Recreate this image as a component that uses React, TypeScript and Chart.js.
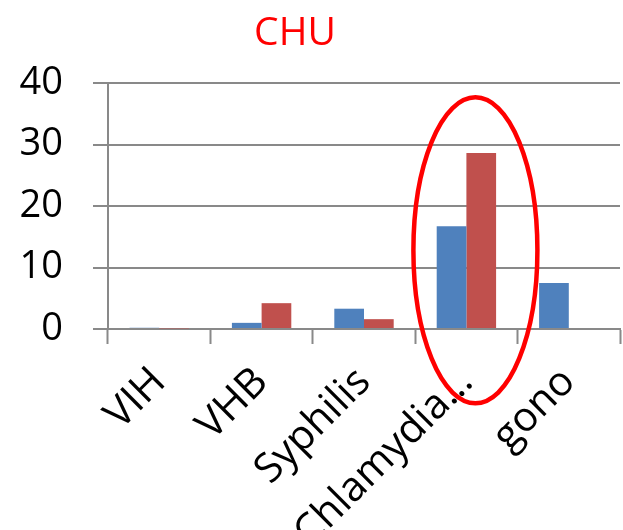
import React, { useEffect, useRef } from "react";
import { Chart, registerables } from "chart.js";

Chart.register(...registerables);

const categories = ["VIH", "VHB", "Syphilis", "Chlamydia…", "gono"];
const seriesBlue = [0.2, 1.0, 3.3, 16.7, 7.5];
const seriesRed = [0.1, 4.2, 1.6, 28.6, 0];
const yTicks = [0, 10, 20, 30, 40];
const titleText = "CHU";

const FONT = "'Open Sans', 'DejaVu Sans', sans-serif";
const GRID = "#898989";

// Chart heading, placed a little left of the canvas centre
const headingPlugin = {
  id: "heading",
  afterDraw(chart: any) {
    const { ctx } = chart;
    ctx.save();
    ctx.font = `39px ${FONT}`;
    ctx.fillStyle = "#FF0000";
    ctx.textAlign = "center";
    ctx.textBaseline = "middle";
    ctx.fillText(titleText, 295, 34);
    ctx.restore();
  },
};

// Red ellipse drawn around the Chlamydia group
const highlightPlugin = {
  id: "highlight",
  afterDraw(chart: any) {
    const { ctx, scales } = chart;
    const x = scales.x;
    const y = scales.y;
    const cx = x.getPixelForValue(3) + 9;
    const cy = y.getPixelForValue(12.8);
    ctx.save();
    ctx.beginPath();
    ctx.ellipse(cx, cy, 62, 153, 0, 0, Math.PI * 2);
    ctx.strokeStyle = "#FF0000";
    ctx.lineWidth = 4.5;
    ctx.stroke();
    ctx.restore();
  },
};

export default function App() {
  const ref = useRef<HTMLCanvasElement | null>(null);

  useEffect(() => {
    if (!ref.current) return;
    const chart = new Chart(ref.current, {
      type: "bar",
      data: {
        labels: categories,
        datasets: [
          {
            data: seriesBlue,
            backgroundColor: "#4F81BD",
            categoryPercentage: 0.58,
            barPercentage: 1,
          },
          {
            data: seriesRed,
            backgroundColor: "#C0504D",
            categoryPercentage: 0.58,
            barPercentage: 1,
          },
        ],
      },
      options: {
        animation: false,
        responsive: false,
        layout: { padding: { left: 0, right: 3, top: 83, bottom: 0 } },
        plugins: {
          legend: { display: false },
          tooltip: { enabled: false },
          title: { display: false },
        },
        scales: {
          x: {
            offset: true,
            grid: {
              offset: true,
              drawOnChartArea: false,
              drawTicks: true,
              tickLength: 15,
              tickWidth: 2,
              tickColor: GRID,
            },
            border: { color: GRID, width: 2 },
            ticks: {
              autoSkip: false,
              minRotation: 45,
              maxRotation: 45,
              color: "#000",
              padding: 14,
              font: { family: FONT, size: 41 },
            },
            afterFit(scale: any) {
              scale.height = 201;
            },
          },
          y: {
            min: 0,
            max: 40,
            afterBuildTicks(scale: any) {
              scale.ticks = yTicks.map((v) => ({ value: v }));
            },
            grid: {
              color: GRID,
              lineWidth: 2,
              tickLength: 15,
              tickWidth: 2,
              tickColor: GRID,
            },
            border: { color: GRID, width: 2 },
            ticks: {
              color: "#000",
              padding: 30,
              font: { family: FONT, size: 38 },
            },
            afterFit(scale: any) {
              scale.width = 108;
            },
          },
        },
      },
      plugins: [headingPlugin, highlightPlugin],
    });
    return () => chart.destroy();
  }, []);

  return (
    <div style={{ position: "fixed", left: 0, top: 0, width: 623, height: 530, background: "#fff" }}>
      <canvas ref={ref} width={623} height={530} style={{ display: "block" }} />
    </div>
  );
}
